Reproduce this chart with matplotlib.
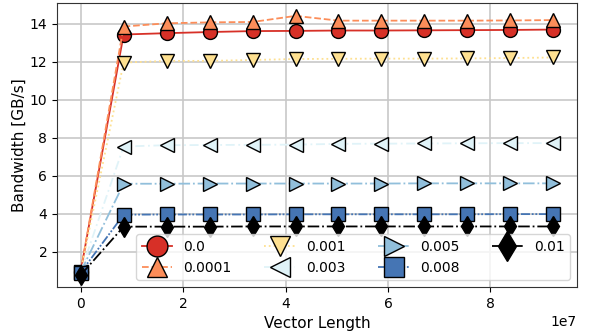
import matplotlib
matplotlib.use("Agg")
import matplotlib.pyplot as plt

x = [1024, 8388608, 16777216, 25165824, 33554432, 41943040, 50331648,
     58720256, 67108864, 75497472, 83886080, 92274688]

labels = ["0.0", "0.0001", "0.001", "0.003", "0.005", "0.008", "0.01"]
s_00 = [0.95, 13.44, 13.51, 13.57, 13.62, 13.63, 13.65, 13.65, 13.66, 13.67, 13.68, 13.70]
s_0001 = [0.95, 13.86, 14.03, 14.08, 14.1, 14.42, 14.17, 14.17, 14.17, 14.17, 14.18, 14.2]
s_001 = [0.95, 11.96, 12.05, 12.05, 12.1, 12.15, 12.16, 12.17, 12.17, 12.18, 12.2, 12.23]
s_003 = [0.93, 7.54, 7.61, 7.62, 7.63, 7.64, 7.68, 7.69, 7.7, 7.71, 7.72, 7.72]
s_005 = [0.93, 5.58, 5.58, 5.59, 5.59, 5.59, 5.59, 5.59, 5.6, 5.6, 5.6, 5.6]
s_008 = [0.9, 3.95, 3.96, 3.96, 3.96, 3.97, 3.97, 3.97, 3.97, 3.97, 3.98, 3.98]
s_01 = [0.77, 3.32, 3.32, 3.32, 3.33, 3.33, 3.33, 3.33, 3.33, 3.33, 3.33, 3.33]

series = [s_00, s_0001, s_001, s_003, s_005, s_008, s_01]
colors = ["#d73027", "#fc8d59", "#fee090", "#e0f3f8", "#91bfdb", "#4575b4", "#000000"]
markers = ["o", "^", "v", "<", ">", "s", "d"]
styles = ["-", "--", ":", (0, (5, 2, 1, 2)), "-.", (0, (5, 1, 1, 1, 1, 1)), "-."]

fig, ax = plt.subplots(figsize=(5.9, 3.32), dpi=100)
for s, lab, c, m, ls in zip(series, labels, colors, markers, styles):
    ax.plot(x, s, color=c, marker=m, linestyle=ls, linewidth=1.3,
            markersize=10, markeredgecolor="black", markeredgewidth=1.0,
            markerfacecolor=c, label=lab)

ax.grid(True, color="#c8c8c8", linewidth=1.2)
ax.set_axisbelow(True)
ax.set_ylim(0.14, 15.1)
ax.set_xlabel("Vector Length", fontsize=11)
ax.set_ylabel("Bandwidth [GB/s]", fontsize=11, labelpad=2)
ax.tick_params(labelsize=10)
ax.set_yticks([2, 4, 6, 8, 10, 12, 14])
ax.legend(ncol=4, loc="lower right", fontsize=10, markerscale=1.5,
          handlelength=2.2, columnspacing=2.35, handletextpad=0.8)
for sp in ax.spines.values():
    sp.set_color("#333333")
fig.subplots_adjust(left=0.0966, right=0.978, top=0.991, bottom=0.1355)
fig.savefig("out.png", dpi=100)
